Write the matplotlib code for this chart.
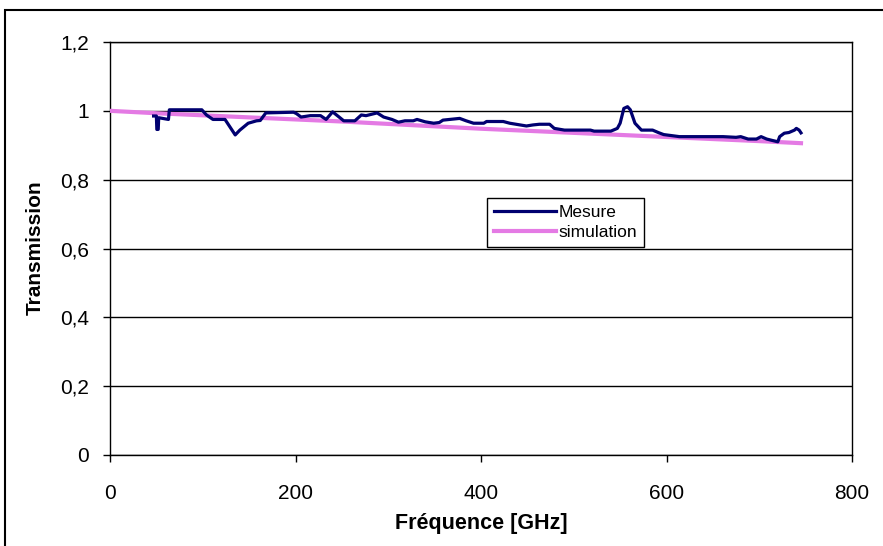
import matplotlib
matplotlib.use("Agg")
import matplotlib.pyplot as plt
from matplotlib.patches import Rectangle

plt.rcParams['font.family'] = ['Liberation Sans Narrow', 'Liberation Sans', 'DejaVu Sans']

# Mesure (GHz, transmission)
mesure_f = [47, 50, 50.5, 52, 52.5, 63, 64, 99, 104, 111, 124, 135, 140, 149, 158, 162,
            168, 198, 201, 206, 216, 227, 233, 240, 247, 252, 264, 271, 276, 288, 295,
            304, 311, 318, 327, 331, 340, 349, 355, 359, 377, 384, 392, 403, 406, 424,
            431, 449, 456, 463, 474, 479, 490, 518, 522, 540, 547, 550, 554, 558, 561,
            566, 573, 585, 592, 597, 614, 661, 675, 680, 688, 697, 702, 708, 720, 722,
            727, 732, 738, 740, 743, 745]
mesure_t = [0.985, 0.985, 0.946, 0.946, 0.98, 0.975, 1.003, 1.003, 0.988, 0.975, 0.975,
            0.93, 0.944, 0.964, 0.971, 0.972, 0.994, 0.996, 0.992, 0.982, 0.986, 0.986,
            0.975, 0.997, 0.982, 0.971, 0.971, 0.988, 0.986, 0.994, 0.982, 0.975, 0.967,
            0.971, 0.971, 0.975, 0.968, 0.964, 0.966, 0.973, 0.978, 0.971, 0.964, 0.964,
            0.969, 0.969, 0.964, 0.956, 0.959, 0.961, 0.961, 0.949, 0.944, 0.944, 0.941,
            0.941, 0.949, 0.964, 1.007, 1.012, 1.003, 0.964, 0.944, 0.944, 0.936, 0.931,
            0.925, 0.925, 0.923, 0.925, 0.918, 0.918, 0.925, 0.918, 0.91, 0.925, 0.935,
            0.937, 0.944, 0.949, 0.944, 0.936]

# simulation
sim_f = [0, 50, 100, 150, 200, 250, 300, 350, 400, 450, 500, 550, 600, 650, 700, 745]
sim_t = [1.0, 0.993, 0.987, 0.981, 0.975, 0.969, 0.962, 0.955, 0.948, 0.942, 0.936,
         0.930, 0.924, 0.918, 0.912, 0.906]

y_ticks = [0, 0.2, 0.4, 0.6, 0.8, 1.0, 1.2]
y_labels = ['0', '0,2', '0,4', '0,6', '0,8', '1', '1,2']
x_ticks = [0, 200, 400, 600, 800]

W, H = 883, 546
fig = plt.figure(figsize=(W / 100, H / 100), dpi=100)
ax = fig.add_axes([110 / W, 1 - 455 / H, (852 - 110) / W, (455 - 42) / H])

# outer chart frame
fig.patches.append(Rectangle((5 / W, -0.05), 1.2, 1.05 - 10 / H, transform=fig.transFigure,
                             fill=False, edgecolor='black', linewidth=1.5))

ax.plot(sim_f, sim_t, color='#e47ae4', linewidth=3, label='simulation', zorder=3)
ax.plot(mesure_f, mesure_t, color='#000070', linewidth=2.3, label='Mesure', zorder=4)

ax.set_xlim(0, 800)
ax.set_ylim(0, 1.2)
ax.set_yticks(y_ticks)
ax.set_yticklabels(y_labels)
ax.set_xticks(x_ticks)
for y in y_ticks:
    ax.axhline(y, color='black', linewidth=1, zorder=1)
for s in ax.spines.values():
    s.set_color('black')
    s.set_linewidth(1)
ax.tick_params(axis='x', direction='out', length=5, width=1, pad=16, labelsize=15)
ax.tick_params(axis='y', direction='out', length=5, width=1, pad=10, labelsize=15)

fig.text((110 + 852) / 2 / W, 1 - 523 / H, 'Fréquence [GHz]', ha='center',
         va='center', fontsize=15.5, fontweight='bold')
fig.text(35 / W, 1 - 248 / H, 'Transmission', ha='center', va='center', rotation=90,
         fontsize=15, fontweight='bold')

handles, labels = ax.get_legend_handles_labels()
leg = ax.legend(handles[::-1], labels[::-1], loc='upper left',
                bbox_to_anchor=((487 - 110) / (852 - 110), (455 - 198) / (455 - 42)),
                frameon=True, fancybox=False, edgecolor='black', framealpha=1,
                fontsize=12.5, handlelength=3.6, handletextpad=0.1, borderpad=0.4,
                labelspacing=0.3, borderaxespad=0)
leg.get_frame().set_linewidth(1)
leg.set_zorder(5)

fig.savefig('out.png', dpi=100)
